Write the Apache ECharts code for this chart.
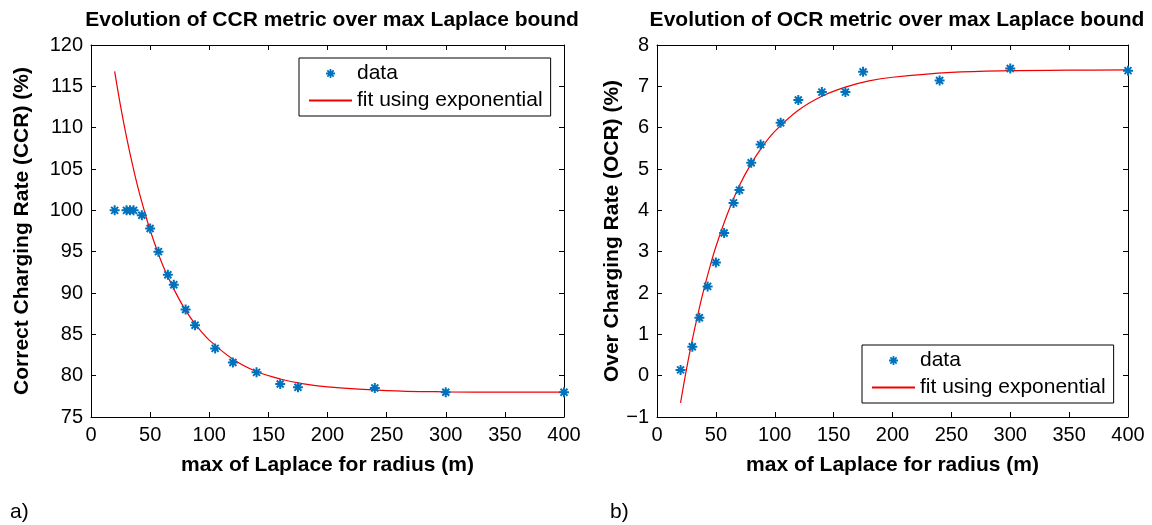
<!DOCTYPE html>
<html>
<head>
<meta charset="utf-8">
<script src="https://cdn.jsdelivr.net/npm/echarts@6/dist/echarts.min.js"></script>
<style>
html,body{margin:0;padding:0;background:#fff;}
#c{width:1152px;height:525px;}
</style>
</head>
<body>
<div id="c"></div>
<script>
// ---- data ----
const ccrX = [20, 30, 33, 36, 43, 50, 57, 65, 70, 80, 88, 105, 120, 140, 160, 175, 240, 300, 400];
const ccrY = [100, 100, 100, 100, 99.4, 97.8, 95.0, 92.2, 91.0, 88.0, 86.1, 83.3, 81.6, 80.4, 79.0, 78.6, 78.5, 78.0, 78.0];
const ccrFitX = [20, 25, 30, 35, 40, 45, 50, 60, 70, 80, 90, 100, 120, 140, 160, 180, 200, 250, 300, 350, 400];
const ccrFitY = [116.8, 112.6, 108.9, 105.6, 102.6, 100.0, 97.6, 93.6, 90.5, 87.9, 85.9, 84.3, 82.0, 80.5, 79.6, 79.0, 78.65, 78.2, 78.05, 78.0, 78.0];

const ocrX = [20, 30, 36, 43, 50, 57, 65, 70, 80, 88, 105, 120, 140, 160, 175, 240, 300, 400];
const ocrY = [0.14, 0.70, 1.40, 2.16, 2.74, 3.45, 4.18, 4.49, 5.15, 5.59, 6.12, 6.67, 6.86, 6.86, 7.35, 7.14, 7.43, 7.38];
const ocrFitX = [20, 25, 30, 35, 40, 45, 50, 60, 70, 80, 90, 100, 120, 140, 160, 180, 200, 250, 300, 350, 400];
const ocrFitY = [-0.66, 0.15, 0.87, 1.52, 2.11, 2.64, 3.12, 3.93, 4.60, 5.13, 5.56, 5.91, 6.42, 6.76, 6.98, 7.13, 7.22, 7.34, 7.38, 7.39, 7.40];

const xTicks = [0, 400, 50];     // min, max, interval
const ccrTicks = [75, 120, 5];
const ocrTicks = [-1, 8, 1];

const titles = ['Evolution of CCR metric over max Laplace bound', 'Evolution of OCR metric over max Laplace bound'];
const xName = 'max of Laplace for radius (m)';
const yNames = ['Correct Charging Rate (CCR) (%)', 'Over Charging Rate (OCR) (%)'];
const seriesNames = ['data', 'fit using exponential'];
const panelLabels = ['a)', 'b)'];

// ---- styling ----
const FONT = 'Liberation Sans, Arial, Helvetica, sans-serif';
const BLUE = '#0072BD';
const RED = '#F00000';
const STAR = 'path://M0,4L10,4L10,6L0,6Z M4,0L6,0L6,10L4,10Z M0.8,2.2L2.2,0.8L9.2,7.8L7.8,9.2Z M7.8,0.8L9.2,2.2L2.2,9.2L0.8,7.8Z';
const TICK_FS = 20;
const LABEL_FS = 21;

const pair = (xs, ys) => xs.map((x, i) => [x, ys[i]]);
const minus = v => String(v).replace('-', '\u2212');

const grids = [
  {left: 91, right: 588, top: 45, bottom: 108},
  {left: 657, right: 24, top: 45, bottom: 108}
];

function xAxes(gi) {
  const base = {
    type: 'value', gridIndex: gi, min: xTicks[0], max: xTicks[1], interval: xTicks[2],
    axisLine: {show: true, onZero: false, lineStyle: {color: '#000', width: 1}},
    axisTick: {show: true, inside: true, length: 5, lineStyle: {color: '#000'}},
    splitLine: {show: false}
  };
  return [
    Object.assign({}, base, {
      position: 'bottom',
      axisLabel: {color: '#000', fontSize: TICK_FS, fontFamily: FONT, margin: 8},
      name: xName, nameLocation: 'middle', nameGap: 38,
      nameTextStyle: {color: '#000', fontSize: LABEL_FS, fontWeight: 'bold', fontFamily: FONT}
    }),
    Object.assign({}, base, {position: 'top', axisLabel: {show: false}})
  ];
}
function yAxes(gi, ticks, gap) {
  const base = {
    type: 'value', gridIndex: gi, min: ticks[0], max: ticks[1], interval: ticks[2],
    axisLine: {show: true, onZero: false, lineStyle: {color: '#000', width: 1}},
    axisTick: {show: true, inside: true, length: 5, lineStyle: {color: '#000'}},
    splitLine: {show: false}
  };
  return [
    Object.assign({}, base, {
      position: 'left',
      axisLabel: {color: '#000', fontSize: TICK_FS, fontFamily: FONT, margin: 8, formatter: minus},
      name: yNames[gi], nameLocation: 'middle', nameGap: gap, nameRotate: 90,
      nameTextStyle: {color: '#000', fontSize: LABEL_FS, fontWeight: 'bold', fontFamily: FONT}
    }),
    Object.assign({}, base, {position: 'right', axisLabel: {show: false}})
  ];
}

const legendBase = {
  orient: 'vertical', backgroundColor: '#fff', borderColor: '#000', borderWidth: 1,
  padding: [5, 8, 5, 9], itemWidth: 43, itemHeight: 9, itemGap: 6,
  textStyle: {color: '#000', fontSize: LABEL_FS, fontFamily: FONT, lineHeight: 21},
  selectedMode: false,
  data: [
    {name: seriesNames[0]},
    {name: seriesNames[1], itemStyle: {opacity: 0}}
  ]
};

function scatterSeries(xi, yi, xs, ys) {
  return {
    name: seriesNames[0], type: 'scatter', xAxisIndex: xi, yAxisIndex: yi,
    symbol: STAR, symbolSize: 10, itemStyle: {color: BLUE, opacity: 1},
    data: pair(xs, ys), clip: false, z: 3
  };
}
function fitSeries(xi, yi, xs, ys) {
  return {
    name: seriesNames[1], type: 'line', xAxisIndex: xi, yAxisIndex: yi,
    symbol: 'none', smooth: 0.35, lineStyle: {color: RED, width: 1.2}, itemStyle: {color: RED},
    data: pair(xs, ys), z: 2
  };
}

const option = {
  animation: false,
  backgroundColor: '#fff',
  title: [
    {text: titles[0], left: 327, top: 5, textAlign: 'center',
     textStyle: {color: '#000', fontSize: LABEL_FS, fontWeight: 'bold', fontFamily: FONT}},
    {text: titles[1], left: 892, top: 5, textAlign: 'center',
     textStyle: {color: '#000', fontSize: LABEL_FS, fontWeight: 'bold', fontFamily: FONT}}
  ],
  grid: grids,
  xAxis: [...xAxes(0), ...xAxes(1)],
  yAxis: [...yAxes(0, ccrTicks, 58), ...yAxes(1, ocrTicks, 33)],
  legend: [
    Object.assign({}, legendBase, {left: 299, top: 58}),
    Object.assign({}, legendBase, {left: 862, top: 345})
  ],
  series: [
    fitSeries(0, 0, ccrFitX, ccrFitY),
    scatterSeries(0, 0, ccrX, ccrY),
    fitSeries(2, 2, ocrFitX, ocrFitY),
    scatterSeries(2, 2, ocrX, ocrY)
  ],
  graphic: [
    {type: 'text', left: 10, top: 502, style: {text: panelLabels[0], fill: '#000', font: '21px ' + FONT}},
    {type: 'text', left: 610, top: 502, style: {text: panelLabels[1], fill: '#000', font: '21px ' + FONT}}
  ]
};

const chart = echarts.init(document.getElementById('c'), null, {renderer: 'canvas'});
chart.setOption(option);
</script>
</body>
</html>
